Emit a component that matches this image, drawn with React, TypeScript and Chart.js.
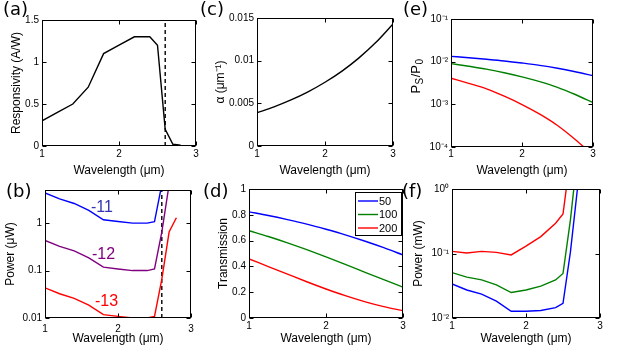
import React, { useEffect, useRef } from "react";
import { Chart, registerables } from "chart.js";
Chart.register(...registerables);

const FONT = "'Liberation Sans', Arial, Helvetica, sans-serif";

// ---------- data ----------
// (a) responsivity and (b)/(f) wavelength grid
const respLambda = [1, 1.2, 1.4, 1.6, 1.8, 2.0, 2.2, 2.4, 2.5, 2.6, 2.7, 2.8];
const responsivity = [0.3, 0.4, 0.5, 0.7, 1.1, 1.2, 1.3, 1.3, 1.2, 0.2, 0.02, 0.01];
const cutoffLambda = 2.6;

// (b) power in uW for NEP exponents -11, -12, -13
const powerNep11 = [4.33, 3.25, 2.6, 1.86, 1.18, 1.08, 1.0, 1.0, 1.08, 6.5, 65, 130];
const powerNep12 = [0.433, 0.325, 0.26, 0.186, 0.118, 0.108, 0.1, 0.1, 0.108, 0.65, 6.5, 13];
const powerNep13 = [0.0433, 0.0325, 0.026, 0.0186, 0.0118, 0.0108, 0.01, 0.01, 0.0108, 0.065, 0.65, 1.3];
const nepLabels = ["-11", "-12", "-13"];

// (c) absorption, (d) transmission, (e) Ps/P0 on a fine grid
const fineLambda = [1, 1.25, 1.5, 1.75, 2, 2.25, 2.5, 2.75, 3];
const alpha = [0.0039, 0.00459, 0.0054, 0.00635, 0.00747, 0.00878, 0.01033, 0.01215, 0.0143];
const trans50 = [0.823, 0.795, 0.763, 0.728, 0.688, 0.645, 0.597, 0.545, 0.489];
const trans100 = [0.677, 0.632, 0.583, 0.53, 0.474, 0.416, 0.356, 0.297, 0.239];
const trans200 = [0.458, 0.399, 0.34, 0.281, 0.225, 0.173, 0.127, 0.088, 0.057];
const ratio50 = [0.0133, 0.0124, 0.0114, 0.0104, 0.0093, 0.0082, 0.007, 0.0058, 0.0047];
const ratio100 = [0.009, 0.0078, 0.0067, 0.0055, 0.0044, 0.0034, 0.0025, 0.0017, 0.0011];
const ratio200 = [0.0041, 0.0031, 0.0023, 0.00155, 0.00099, 0.00059, 0.00032, 0.00015, 0.000064];
const legendLabels = ["50", "100", "200"];

// (f) power in mW
const powerMw50 = [0.0338, 0.0272, 0.0234, 0.0182, 0.0127, 0.0127, 0.0131, 0.0145, 0.0169, 0.105, 1.13, 2.45];
const powerMw100 = [0.0505, 0.043, 0.039, 0.0327, 0.0248, 0.0272, 0.0312, 0.0388, 0.049, 0.33, 3.7, 8.6];
const powerMw200 = [0.108, 0.102, 0.108, 0.104, 0.095, 0.13, 0.183, 0.295, 0.41, 3.1, 40, 110];

const xTickVals = [1, 2, 3];

const BLUE = "#0000ff";
const GREEN = "#008000";
const RED = "#ff0000";
const PURPLE = "#800080";

const pts = (xs: number[], ys: number[]) => xs.map((x, i) => ({ x, y: ys[i] }));

function line(xs: number[], ys: number[], color: string, smooth = false) {
  return {
    data: pts(xs, ys),
    borderColor: color,
    borderWidth: 1.4,
    pointRadius: 0,
    fill: false,
    tension: 0,
    cubicInterpolationMode: smooth ? "monotone" : "default",
  };
}
function vline(x: number, y0: number, y1: number) {
  return {
    data: [{ x, y: y0 }, { x, y: y1 }],
    borderColor: "#000",
    borderWidth: 1.4,
    borderDash: [4, 3],
    pointRadius: 0,
    fill: false,
  };
}

const SUP: Record<string, string> = { "-": "⁻", "0": "⁰", "1": "¹", "2": "²", "3": "³", "4": "⁴" };
const pow10Label = (v: number) => {
  const e = Math.round(Math.log10(v));
  return "10" + String(e).split("").map((c) => SUP[c]).join("");
};

// ---------- plugins ----------
const frameTicks = {
  id: "frameTicks",
  afterDraw(chart: any, _a: any, opts: any) {
    const { ctx, chartArea: ca, scales } = chart;
    const L = Math.round(ca.left) + 0.5, R = Math.round(ca.right) - 0.5;
    const T = Math.round(ca.top) + 0.5, B = Math.round(ca.bottom) - 0.5;
    ctx.save();
    ctx.strokeStyle = "#000";
    ctx.lineWidth = 1;
    ctx.strokeRect(L, T, R - L, B - T);
    const len = 4;
    ctx.beginPath();
    (opts.xTicks || []).forEach((v: number) => {
      const px = Math.round(scales.x.getPixelForValue(v)) + 0.5;
      ctx.moveTo(px, B); ctx.lineTo(px, B - len);
      ctx.moveTo(px, T); ctx.lineTo(px, T + len);
    });
    (opts.yTicks || []).forEach((v: number) => {
      const py = Math.round(scales.y.getPixelForValue(v)) + 0.5;
      ctx.moveTo(L, py); ctx.lineTo(L + len, py);
      ctx.moveTo(R, py); ctx.lineTo(R - len, py);
    });
    ctx.stroke();
    ctx.restore();
  },
};

const legendBox = {
  id: "legendBox",
  afterDraw(chart: any) {
    const { ctx, chartArea: ca } = chart;
    const w = 46, h = 43;
    const x = Math.round(ca.right) - 2 - w;
    const y = Math.round(ca.top) + 3;
    const colors = [BLUE, GREEN, RED];
    ctx.save();
    ctx.fillStyle = "#fff";
    ctx.fillRect(x, y, w, h);
    ctx.strokeStyle = "#000";
    ctx.lineWidth = 1;
    ctx.strokeRect(x + 0.5, y + 0.5, w, h);
    ctx.font = `11px ${FONT}`;
    ctx.textBaseline = "middle";
    ctx.textAlign = "left";
    legendLabels.forEach((lab, i) => {
      const yy = y + 9 + i * 13.5;
      ctx.strokeStyle = colors[i];
      ctx.lineWidth = 1.4;
      ctx.beginPath();
      ctx.moveTo(x + 3, yy);
      ctx.lineTo(x + 23, yy);
      ctx.stroke();
      ctx.fillStyle = "#000";
      ctx.fillText(lab, x + 24, yy + 0.5);
    });
    ctx.restore();
  },
};

const ratioTitle = {
  id: "ratioTitle",
  afterDraw(chart: any) {
    const { ctx } = chart;
    const segs = [
      { t: "P", sub: false },
      { t: "S", sub: true },
      { t: "/P", sub: false },
      { t: "0", sub: true },
    ];
    const big = `13px ${FONT}`, small = `10px ${FONT}`;
    let total = 0;
    const widths = segs.map((s) => {
      ctx.font = s.sub ? small : big;
      const w = ctx.measureText(s.t).width + 0.5;
      total += w;
      return w;
    });
    ctx.save();
    ctx.translate(16, 76);
    ctx.rotate(-Math.PI / 2);
    ctx.fillStyle = "#000";
    ctx.textBaseline = "middle";
    ctx.textAlign = "left";
    let x = -total / 2;
    segs.forEach((s, i) => {
      ctx.font = s.sub ? small : big;
      ctx.fillText(s.t, x, s.sub ? 4.5 : 0);
      x += widths[i];
    });
    ctx.restore();
  },
};

// ---------- panels ----------
type PanelDef = {
  id: string;
  box: { left: number; top: number; width: number; height: number };
  plot: { left: number; top: number; right: number; bottom: number };
  yType: "linear" | "logarithmic";
  yMin: number;
  yMax: number;
  yTicks: number[];
  yLabel: (v: number) => string;
  yTitle: string | null;
  yTitlePad: number;
  xTitlePad: number;
  xTickPad: number;
  datasets: any[];
  extra: any[];
};

const TOP = { top: 0, height: 178 };
const BOT = { top: 172, height: 177 };

const panels: PanelDef[] = [
  {
    id: "a",
    box: { left: 0, width: 205, ...TOP },
    plot: { left: 42, top: 20, right: 196, bottom: 146 },
    yType: "linear", yMin: 0, yMax: 1.5,
    yTicks: [0, 0.5, 1, 1.5],
    yLabel: (v) => String(v),
    yTitle: "Responsivity (A/W)", yTitlePad: 9,
    xTitlePad: 0.5, xTickPad: 2,
    datasets: [line(respLambda, responsivity, "#000"), vline(cutoffLambda, 0, 1.5)],
    extra: [],
  },
  {
    id: "c",
    box: { left: 200, width: 210, ...TOP },
    plot: { left: 257, top: 18, right: 393, bottom: 146 },
    yType: "linear", yMin: 0, yMax: 0.015,
    yTicks: [0, 0.005, 0.01, 0.015],
    yLabel: (v) => String(v),
    yTitle: "α (μm⁻¹)", yTitlePad: 13,
    xTitlePad: 0.5, xTickPad: 2,
    datasets: [line(fineLambda, alpha, "#000", true)],
    extra: [],
  },
  {
    id: "e",
    box: { left: 400, width: 223, ...TOP },
    plot: { left: 451, top: 19, right: 593, bottom: 147 },
    yType: "logarithmic", yMin: 1e-4, yMax: 1e-1,
    yTicks: [1e-4, 1e-3, 1e-2, 1e-1],
    yLabel: pow10Label,
    yTitle: null, yTitlePad: 0,
    xTitlePad: 0.5, xTickPad: 1,
    datasets: [
      line(fineLambda, ratio50, BLUE, true),
      line(fineLambda, ratio100, GREEN, true),
      line(fineLambda, ratio200, RED, true),
    ],
    extra: [ratioTitle],
  },
  {
    id: "b",
    box: { left: 0, width: 205, ...BOT },
    plot: { left: 45, top: 190, right: 191, bottom: 318 },
    yType: "logarithmic", yMin: 0.01, yMax: 5,
    yTicks: [0.01, 0.1, 1],
    yLabel: (v) => String(v),
    yTitle: "Power (μW)", yTitlePad: 3,
    xTitlePad: 3, xTickPad: 5,
    datasets: [
      line(respLambda, powerNep11, BLUE),
      line(respLambda, powerNep12, PURPLE),
      line(respLambda, powerNep13, RED),
      vline(cutoffLambda, 0.01, 5),
    ],
    extra: [],
  },
  {
    id: "d",
    box: { left: 200, width: 210, ...BOT },
    plot: { left: 249, top: 189, right: 403, bottom: 318 },
    yType: "linear", yMin: 0, yMax: 1,
    yTicks: [0, 0.2, 0.4, 0.6, 0.8, 1],
    yLabel: (v) => String(v),
    yTitle: "Transmission", yTitlePad: 16,
    xTitlePad: 3, xTickPad: 2,
    datasets: [
      line(fineLambda, trans50, BLUE, true),
      line(fineLambda, trans100, GREEN, true),
      line(fineLambda, trans200, RED, true),
    ],
    extra: [legendBox],
  },
  {
    id: "f",
    box: { left: 400, width: 223, ...BOT },
    plot: { left: 452, top: 189, right: 600, bottom: 318 },
    yType: "logarithmic", yMin: 1e-2, yMax: 1,
    yTicks: [1e-2, 1e-1, 1],
    yLabel: pow10Label,
    yTitle: "Power (mW)", yTitlePad: 11,
    xTitlePad: 3, xTickPad: 2,
    datasets: [
      line(respLambda, powerMw50, BLUE),
      line(respLambda, powerMw100, GREEN),
      line(respLambda, powerMw200, RED),
    ],
    extra: [],
  },
];

function buildConfig(d: PanelDef): any {
  const yWidth = d.plot.left - d.box.left;
  const padTop = d.plot.top - d.box.top;
  const padRight = d.box.left + d.box.width - d.plot.right;
  const xHeight = d.box.top + d.box.height - d.plot.bottom;
  const tickFont = { family: FONT, size: 10 };
  const titleFont = { family: FONT, size: 12 };
  return {
    type: "line",
    data: { datasets: d.datasets },
    options: {
      responsive: false,
      animation: false,
      devicePixelRatio: 1,
      events: [],
      layout: { padding: { left: 0, top: padTop, right: padRight, bottom: 0 } },
      plugins: {
        legend: { display: false },
        tooltip: { enabled: false },
        frameTicks: { xTicks: xTickVals, yTicks: d.yTicks },
      },
      scales: {
        x: {
          type: "linear",
          min: 1,
          max: 3,
          bounds: "data",
          afterBuildTicks: (s: any) => {
            s.ticks = xTickVals.map((v) => ({ value: v }));
          },
          ticks: {
            font: tickFont,
            color: "#000",
            padding: d.xTickPad,
            maxRotation: 0,
            autoSkip: false,
            callback: (v: number) => String(v),
          },
          grid: { display: false, drawTicks: false },
          border: { display: false },
          title: {
            display: true,
            text: "Wavelength (μm)",
            font: titleFont,
            color: "#000",
            padding: { top: 0, bottom: d.xTitlePad },
          },
          afterFit: (s: any) => {
            s.height = xHeight;
            s.paddingLeft = 0; s.paddingRight = 0; s.paddingTop = 0; s.paddingBottom = 0;
          },
        },
        y: {
          type: d.yType,
          min: d.yMin,
          max: d.yMax,
          bounds: "data",
          afterBuildTicks: (s: any) => {
            s.ticks = d.yTicks.map((v) => ({ value: v }));
          },
          ticks: {
            font: tickFont,
            color: "#000",
            padding: 3,
            autoSkip: false,
            callback: (v: number) => d.yLabel(v),
          },
          grid: { display: false, drawTicks: false },
          border: { display: false },
          title: {
            display: !!d.yTitle,
            text: d.yTitle || "",
            font: titleFont,
            color: "#000",
            padding: { top: d.yTitlePad, bottom: 0 },
          },
          afterFit: (s: any) => {
            s.width = yWidth;
            s.paddingLeft = 0; s.paddingRight = 0; s.paddingTop = 0; s.paddingBottom = 0;
          },
        },
      },
    },
    plugins: [frameTicks, ...d.extra],
  };
}

function Panel({ def }: { def: PanelDef }) {
  const ref = useRef<HTMLCanvasElement>(null);
  useEffect(() => {
    const chart = new Chart(ref.current as HTMLCanvasElement, buildConfig(def));
    return () => chart.destroy();
  }, [def]);
  return (
    <canvas
      ref={ref}
      width={def.box.width}
      height={def.box.height}
      style={{
        position: "absolute",
        left: def.box.left,
        top: def.box.top,
        width: def.box.width,
        height: def.box.height,
      }}
    />
  );
}

const panelLetters = [
  { t: "(a)", left: 3, top: 0 },
  { t: "(c)", left: 200, top: 0 },
  { t: "(e)", left: 403, top: 0 },
  { t: "(b)", left: 6, top: 182 },
  { t: "(d)", left: 203, top: 182 },
  { t: "(f)", left: 402, top: 182 },
];

const nepText = [
  { t: nepLabels[0], left: 91, top: 199, color: "#3333b3" },
  { t: nepLabels[1], left: 92, top: 246, color: PURPLE },
  { t: nepLabels[2], left: 95, top: 293, color: RED },
];

export default function App() {
  return (
    <div
      style={{
        position: "absolute",
        left: 0,
        top: 0,
        width: 623,
        height: 349,
        background: "#fff",
        overflow: "hidden",
      }}
    >
      {panels.map((p) => (
        <Panel key={p.id} def={p} />
      ))}
      {panelLetters.map((l) => (
        <div
          key={l.t}
          style={{
            position: "absolute",
            left: l.left,
            top: l.top,
            font: `18px/18px 'DejaVu Sans', sans-serif`,
            color: "#000",
            whiteSpace: "nowrap",
          }}
        >
          {l.t}
        </div>
      ))}
      {nepText.map((l) => (
        <div
          key={l.t}
          style={{
            position: "absolute",
            left: l.left,
            top: l.top,
            font: `16px/16px ${FONT}`,
            color: l.color,
            whiteSpace: "nowrap",
          }}
        >
          {l.t}
        </div>
      ))}
    </div>
  );
}
